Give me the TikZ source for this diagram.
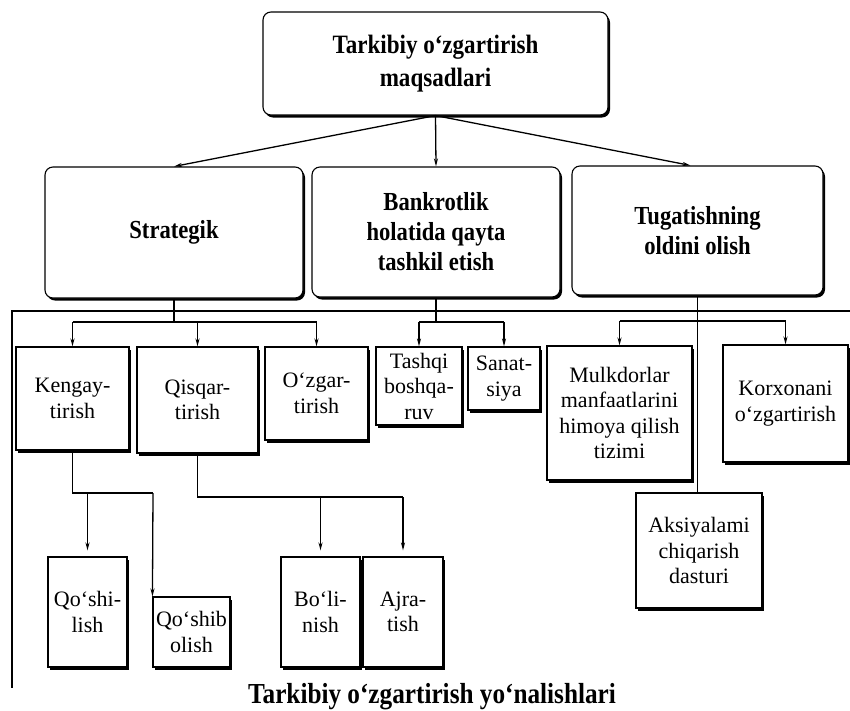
\documentclass[tikz,border=0pt]{standalone}
\usepackage{fontspec}
\setmainfont{Liberation Serif}
\newfontfamily\condserif[FakeStretch=0.87]{Liberation Serif}
\usetikzlibrary{arrows.meta,shadows}
\begin{document}
\begin{tikzpicture}[x=1pt,y=-1pt,
  boxbase/.style={draw=black,line width=1.1pt,fill=white,inner sep=0pt,align=center,
    drop shadow={shadow xshift=2pt,shadow yshift=-2.5pt,fill=black,opacity=1}},
  topbox/.style={boxbase,rounded corners=8pt,font=\condserif\bfseries\fontsize{26}{30}\selectfont},
  subbox/.style={boxbase,font=\fontsize{22}{25.5}\selectfont},
  conn/.style={line width=1.3pt},
  arr/.style={conn,-{Stealth[length=8pt,width=4pt]}},
  frameline/.style={line width=1.1pt}
]
\useasboundingbox (0,0) rectangle (850,710);

% top level
\node[topbox,minimum width=345pt,minimum height=103pt,font=\condserif\bfseries\fontsize{26.5}{33}\selectfont] (top) at (435.5,63.5) {Tarkibiy o‘zgartirish\\maqsadlari};

\node[topbox,minimum width=258pt,minimum height=131pt] (strat) at (174,232.5) {Strategik};
\node[topbox,minimum width=248pt,minimum height=130pt] (bank) at (436,232) {Bankrotlik\\holatida qayta\\tashkil etish};
\node[topbox,minimum width=251pt,minimum height=129pt] (tug) at (697.5,230.5) {Tugatishning\\oldini olish};

\draw[arr] (top.south) -- (strat.north);
\draw[arr] (top.south) -- (bank.north);
\draw[arr] (top.south) -- ([xshift=-7pt]tug.north);

% frame lines
\coordinate (fa) at (12,311);
\coordinate (fb) at (850,311);
\coordinate (fc) at (12,688);
\draw[frameline] (fb) -- (fa) -- (fc);

% sub boxes
\node[subbox,minimum width=113pt,minimum height=103pt] (keng) at (72.5,398.5) {Kengay-\\tirish};
\node[subbox,minimum width=121pt,minimum height=106pt] (qisq) at (197.5,400) {Qisqar-\\tirish};
\node[subbox,minimum width=103pt,minimum height=93pt] (ozg) at (316.5,393.5) {O‘zgar-\\tirish};
\node[subbox,minimum width=86pt,minimum height=78pt] (tash) at (419,386) {Tashqi\\boshqa-\\ruv};
\node[subbox,minimum width=72pt,minimum height=63pt] (sanat) at (504,378.5) {Sanat-\\siya};
\node[subbox,minimum width=145pt,minimum height=134pt] (mulk) at (619.5,413) {Mulkdorlar\\manfaatlarini\\himoya qilish\\tizimi};
\node[subbox,minimum width=125pt,minimum height=117pt] (korx) at (785.5,403.5) {Korxonani\\o‘zgartirish};
\node[subbox,minimum width=126pt,minimum height=115pt] (aksi) at (699,550.5) {Aksiyalami\\chiqarish\\dasturi};

\node[subbox,minimum width=79pt,minimum height=110pt] (qoshi) at (87.5,612) {Qo‘shi-\\lish};
\node[subbox,minimum width=77pt,minimum height=70pt] (qoshib) at (191.5,632) {Qo‘shib\\olish};
\node[subbox,minimum width=79pt,minimum height=110pt] (boli) at (320.5,612) {Bo‘li-\\nish};
\node[subbox,minimum width=80pt,minimum height=110pt] (ajra) at (403,612) {Ajra-\\tish};

% Strategik branch
\coordinate (sj) at (174,322);
\coordinate (sl) at (72.5,322);
\coordinate (sr) at (316.5,322);
\draw[conn] (strat.south) -- (sj);
\draw[conn] (sl) -- (sr);
\draw[arr] (sl) -- (keng.north);
\draw[arr] (qisq.north |- sj) -- (qisq.north);
\draw[arr] (sr) -- (ozg.north);

% Bankrotlik branch
\coordinate (bj) at (436,322);
\coordinate (bl) at (419,322);
\coordinate (br) at (504,322);
\draw[conn] (bank.south) -- (bj);
\draw[conn] (bl) -- (br);
\draw[arr] (bl) -- (tash.north);
\draw[arr] (br) -- (sanat.north);

% Tugatishning branch
\coordinate (tl) at (619.5,321);
\coordinate (tr) at (785.5,321);
\draw[conn] (tug.south) -- (tug.south |- aksi.north);
\draw[conn] (tl) -- (tr);
\draw[arr] (tl) -- (mulk.north);
\draw[arr] (tr) -- (korx.north);

% Kengaytirish children
\coordinate (kj) at (72.5,493);
\coordinate (kr) at (153,493);
\draw[conn] (keng.south) -- (kj) -- (kr);
\draw[arr,shorten >=6pt] (qoshi.north |- kj) -- (qoshi.north);
\draw[arr] (kr) -- (qoshib.north west);

% Qisqartirish children
\coordinate (qj) at (197.5,497);
\coordinate (qr) at (403,497);
\draw[conn] (qisq.south) -- (qj) -- (qr);
\draw[arr,shorten >=6pt] (boli.north |- qj) -- (boli.north);
\draw[arr,shorten >=6pt] (qr) -- (ajra.north);

% caption
\node[font=\condserif\bfseries\fontsize{29}{32}\selectfont,inner sep=0pt] (cap) at (432,697) {Tarkibiy o‘zgartirish yo‘nalishlari};
\end{tikzpicture}
\end{document}
